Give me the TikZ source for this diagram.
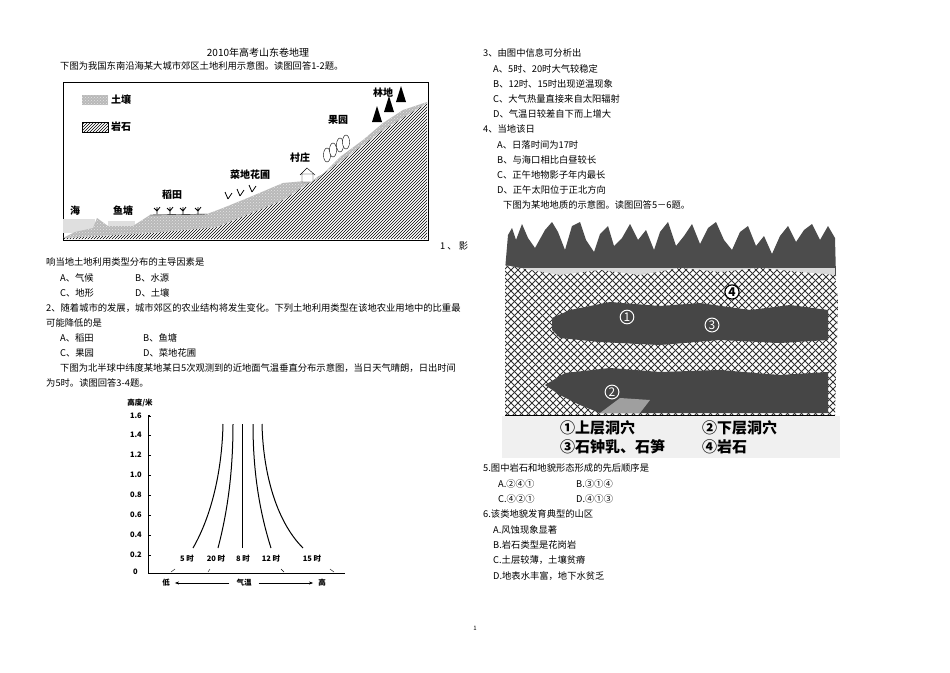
\documentclass[tikz,border=0pt]{standalone}
\usepackage{fontspec}
\setmainfont{Noto Sans CJK SC}
\usetikzlibrary{patterns,arrows.meta,calc}
\begin{document}
\begin{tikzpicture}[x=1pt,y=-1pt,
  txt/.style={anchor=west,inner sep=0pt,font=\fontsize{9.3}{10}\selectfont},
  lbl/.style={inner sep=0pt,font=\fontsize{10}{11}\selectfont\bfseries},
  ax/.style={inner sep=0pt,font=\fontsize{7.5}{9}\selectfont\bfseries},
  big/.style={anchor=west,inner sep=0pt,font=\fontsize{15}{16}\selectfont\bfseries},
  crv/.style={line width=1pt}]
\useasboundingbox (0,0) rectangle (950,672);
\fill[white] (0,0) rectangle (950,672);
% ---------- left column text
\node[inner sep=0pt,font=\fontsize{10}{11}\selectfont] (title) at (258,53) {2010年高考山东卷地理};
\node[txt] (t0) at (60,66) {下图为我国东南沿海某大城市郊区土地利用示意图。读图回答1-2题。};
% figure 1
\draw[line width=0.8pt] (63,82) rectangle (428,240);
\fill[gray!25] (63,219) rectangle (95,233);
\fill[gray!25] (108,221) rectangle (135,228);
\fill[pattern=north east lines] (63,238) -- (150,233) -- (217,227) -- (283,200) -- (333,167) -- (383,130) -- (427,103) -- (427,239) -- (63,239) -- cycle;
\fill[gray!55] (63,238) -- (75,232) -- (93,228) -- (97,218) -- (108,226) -- (133,226) -- (150,215) -- (207,214) -- (223,208) -- (250,197) -- (283,183) -- (317,180) -- (340,157) -- (363,140) -- (383,123) -- (403,110) -- (427,102) -- (427,103) -- (383,130) -- (333,167) -- (283,200) -- (217,227) -- (150,233) -- cycle;
\fill[pattern=crosshatch dots,pattern color=gray!20] (63,238) -- (75,232) -- (93,228) -- (97,218) -- (108,226) -- (133,226) -- (150,215) -- (207,214) -- (223,208) -- (250,197) -- (283,183) -- (317,180) -- (340,157) -- (363,140) -- (383,123) -- (403,110) -- (427,102) -- (427,103) -- (383,130) -- (333,167) -- (283,200) -- (217,227) -- (150,233) -- cycle;
\draw (150,215) -- (207,214);
% legend
\fill[gray!55] (82,95) rectangle (108,105);
\fill[pattern=crosshatch dots,pattern color=gray!20] (82,95) rectangle (108,105);
\draw[pattern=north east lines] (82,122) rectangle (108,132);
\node[lbl,anchor=west] (l1) at (111,100) {土壤};
\node[lbl,anchor=west] (l2) at (111,127) {岩石};
\node[lbl] (f1) at (75,211) {海};
\node[lbl] (f2) at (123,211) {鱼塘};
\node[lbl] (f3) at (172,195) {稻田};
\node[lbl] (f4) at (250,175) {菜地花圃};
\node[lbl] (f5) at (300,158) {村庄};
\node[lbl] (f6) at (338,120) {果园};
\node[lbl] (f7) at (383,93) {林地};
% plants / houses / trees
\foreach \x in {157,170,183,198} {\draw[line width=0.8pt] (\x,214) -- (\x,207) (\x-3,208) -- (\x,211) -- (\x+3,207);}
\foreach \x/\y in {240/196,228/199,252/192} {\draw[line width=0.8pt] (\x,\y) -- (\x-3,\y-7) (\x,\y) -- (\x+4,\y-6);}
\draw[fill=white] (302,182) rectangle (313,174) (300,175) -- (307,168) -- (315,175);
\foreach \x/\y in {327/155,333/150,340/145,346/142} {\draw[fill=white] (\x,\y) ellipse (3.5 and 7);}
\foreach \x/\y in {377/122,389/112,401/102} {\fill[black] (\x,\y) -- (\x-5,\y) -- (\x,\y-16) -- (\x+5,\y) -- cycle;}
\node[txt] (q1a) at (440,246) {1 、 影};
\node[txt] (q1b) at (46,262) {响当地土地利用类型分布的主导因素是};
\node[txt] (q1A) at (60,278) {A、气候};
\node[txt] (q1B) at (135,278) {B、水源};
\node[txt] (q1C) at (60,293) {C、地形};
\node[txt] (q1D) at (135,293) {D、土壤};
\node[txt] (q2) at (46,308) {2、随着城市的发展，城市郊区的农业结构将发生变化。下列土地利用类型在该地农业用地中的比重最};
\node[txt] (q2b) at (46,323) {可能降低的是};
\node[txt] (q2A) at (60,338) {A、稻田};
\node[txt] (q2B) at (143,338) {B、鱼塘};
\node[txt] (q2C) at (60,353) {C、果园};
\node[txt] (q2D) at (143,353) {D、菜地花圃};
\node[txt] (t1) at (60,368) {下图为北半球中纬度某地某日5次观测到的近地面气温垂直分布示意图，当日天气晴朗，日出时间};
\node[txt] (t1b) at (46,383) {为5时。读图回答3-4题。};
% graph
\node[ax] (yl) at (140,403) {高度/米};
\coordinate (o) at (148,573);
\coordinate (ytop) at (148,415);
\coordinate (xend) at (345,573);
\draw[line width=0.8pt] (150,415) -- (ytop) -- (o) -- (xend);
\foreach \v/\y in {1.6/416,1.4/435,1.2/455,1.0/475,0.8/495,0.6/515,0.4/535,0.2/555} {\draw (148,\y) -- (151,\y); \node[ax,anchor=east] at (142,\y) {\v};}
\node[ax,anchor=east] (zero) at (138,572) {0};
\draw[crv] (193,548) .. controls (212,515) and (222,470) .. (223,424);
\draw[crv] (218,548) .. controls (228,510) and (233,470) .. (233,424);
\draw[crv] (242,548) -- (242,424);
\draw[crv] (271,548) .. controls (259,510) and (253,470) .. (253,424);
\draw[crv] (303,548) .. controls (275,520) and (263,470) .. (262,424);
\node[ax] (h5) at (187,559) {5 时};
\node[ax] (h20) at (216,559) {20 时};
\node[ax] (h8) at (243,559) {8 时};
\node[ax] (h12) at (271,559) {12 时};
\node[ax] (h15) at (312,559) {15 时};
\draw (171,572) -- (175,569) (208,572) -- (210,569) (284,572) -- (281,569) (334,572) -- (330,569);
\node[ax] (lo) at (166,583) {低};
\node[ax] (qw) at (244,583) {气温};
\node[ax] (hi) at (322,583) {高};
\draw[-{Stealth[length=4pt]}] ($(qw.west)+(-7,0)$) -- ($(lo.east)+(5,0)$);
\draw[-{Stealth[length=4pt]}] ($(qw.east)+(7,0)$) -- ($(hi.west)+(-5,0)$);
% ---------- right column
\node[txt] (q3) at (483,53) {3、由图中信息可分析出};
\node[txt] (q3A) at (493,69) {A、5时、20时大气较稳定};
\node[txt] (q3B) at (493,84) {B、12时、15时出现逆温现象};
\node[txt] (q3C) at (493,99) {C、大气热量直接来自太阳辐射};
\node[txt] (q3D) at (493,114) {D、气温日较差自下而上增大};
\node[txt] (q4) at (483,129) {4、当地该日};
\node[txt] (q4A) at (497,145) {A、日落时间为17时};
\node[txt] (q4B) at (497,160) {B、与海口相比白昼较长};
\node[txt] (q4C) at (497,175) {C、正午地物影子年内最长};
\node[txt] (q4D) at (497,190) {D、正午太阳位于正北方向};
\node[txt] (t2) at (503,205) {下图为某地地质的示意图。读图回答5－6题。};
% cave figure
\fill[gray!60!black] (505,270) -- (508,235) -- (512,228) -- (516,240) -- (522,224) -- (528,238) -- (535,248) -- (545,230) -- (552,222) -- (558,232) -- (565,250) -- (572,226) -- (580,222) -- (586,240) -- (594,252) -- (600,234) -- (608,226) -- (614,246) -- (622,238) -- (630,224) -- (638,240) -- (646,230) -- (654,250) -- (660,232) -- (668,222) -- (676,246) -- (684,236) -- (692,224) -- (700,244) -- (708,228) -- (716,222) -- (724,240) -- (732,250) -- (740,232) -- (748,226) -- (756,246) -- (764,236) -- (772,254) -- (780,236) -- (788,226) -- (796,242) -- (804,230) -- (812,224) -- (820,240) -- (828,226) -- (835,238) -- (836,276) -- (505,276) -- cycle;
\fill[gray!30] (520,268) rectangle (835,278);
\begin{scope}
\clip (505,265) -- (530,270) -- (560,275) -- (600,270) -- (640,275) -- (680,268) -- (720,272) -- (760,268) -- (800,272) -- (835,275) -- (838,300) -- (835,415) -- (505,415) -- cycle;
\fill[white] (500,260) rectangle (840,420);
\foreach \k in {0,7,...,500} {
  \draw[gray!40!black,line width=0.9pt] (500+\k-160,420) -- (500+\k,260);
  \draw[gray!40!black,line width=0.9pt] (340+\k,260) -- (500+\k,420);
}
\end{scope}
\fill[gray!55!black] (552,318) -- (570,310) -- (610,302) -- (660,306) -- (700,303) -- (750,310) -- (790,305) -- (828,310) -- (828,340) -- (780,343) -- (720,340) -- (660,345) -- (600,342) -- (560,338) -- (552,330) -- cycle;
\fill[gray!55!black] (545,385) -- (565,373) -- (610,368) -- (660,372) -- (720,370) -- (780,375) -- (828,372) -- (828,413) -- (600,413) -- (580,405) -- (560,395) -- cycle;
\fill[gray!75] (600,413) -- (620,398) -- (650,400) -- (640,413) -- cycle;
\node[circle,draw=white,line width=1pt,inner sep=1pt,text=white,font=\fontsize{12}{12}\selectfont] (c1) at (627,317) {1};
\node[circle,draw=white,line width=1pt,inner sep=1pt,text=white,font=\fontsize{12}{12}\selectfont] (c3) at (712,325) {3};
\node[circle,draw=white,line width=1pt,inner sep=1pt,text=white,font=\fontsize{12}{12}\selectfont] (c2) at (612,392) {2};
\node[circle,draw=black,line width=1.2pt,inner sep=1pt,fill=white,font=\fontsize{12}{12}\selectfont\bfseries] (c4) at (732,292) {4};
\draw[line width=0.8pt] (505,415) -- (835,415);
\fill[gray!12] (502,416) rectangle (840,458);
\node[big] (k1) at (560,428) {①上层洞穴};
\node[big] (k2) at (702,428) {②下层洞穴};
\node[big] (k3) at (560,447) {③石钟乳、石笋};
\node[big] (k4) at (702,447) {④岩石};
\node[txt] (q5) at (483,468) {5.图中岩石和地貌形态形成的先后顺序是};
\node[txt] (q5A) at (498,484) {A.②④①};
\node[txt] (q5B) at (576,484) {B.③①④};
\node[txt] (q5C) at (498,499) {C.④②①};
\node[txt] (q5D) at (576,499) {D.④①③};
\node[txt] (q6) at (483,514) {6.该类地貌发育典型的山区};
\node[txt] (q6A) at (493,530) {A.风蚀现象显著};
\node[txt] (q6B) at (493,545) {B.岩石类型是花岗岩};
\node[txt] (q6C) at (493,560) {C.土层较薄，土壤贫瘠};
\node[txt] (q6D) at (493,576) {D.地表水丰富，地下水贫乏};
\node[inner sep=0pt,font=\fontsize{6}{7}\selectfont] (pg) at (475,628) {1};
\end{tikzpicture}
\end{document}
